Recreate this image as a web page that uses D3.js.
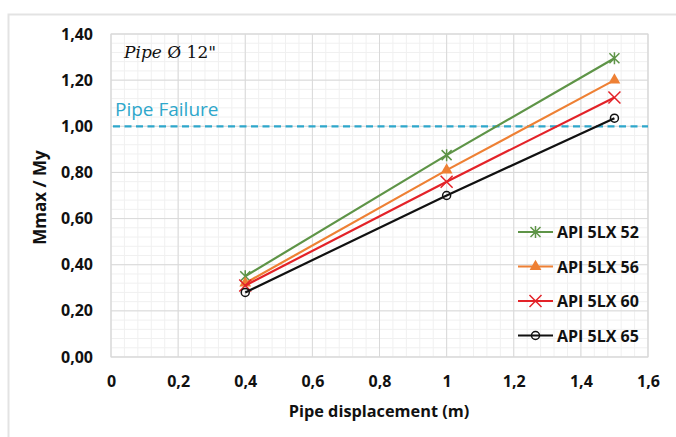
<!DOCTYPE html>
<html>
<head>
<meta charset="utf-8">
<script src="https://cdn.jsdelivr.net/npm/d3@7"></script>
<style>
  body { margin: 0; background: #fff; }
  svg { display: block; }
</style>
</head>
<body>
<div id="chart"></div>
<script>
// Data
let xValues = [0.4, 1, 1.5]
let seriesNames = ['API 5LX 52', 'API 5LX 56', 'API 5LX 60', 'API 5LX 65']
let seriesValues = [
  [0.35, 0.875, 1.295],
  [0.32, 0.81, 1.20],
  [0.31, 0.76, 1.125],
  [0.28, 0.70, 1.035],
]
let seriesColors = ['#5E9447', '#EE8034', '#E32228', '#111111']
let seriesMarkers = ['star', 'triangle', 'cross', 'circle']
let xTicks = [0, 0.2, 0.4, 0.6, 0.8, 1, 1.2, 1.4, 1.6]
let yTicks = [0, 0.2, 0.4, 0.6, 0.8, 1.0, 1.2, 1.4]
let failureLevel = 1.0

// Plot constants
let W = 676, H = 437
let margin = {t: 34, r: 28, b: 80, l: 111}
let plotW = W - margin.l - margin.r
let plotH = H - margin.t - margin.b
let font = '"Open Sans", Lato, sans-serif'

let svg = d3.select('#chart').append('svg')
  .attr('width', W)
  .attr('height', H)

// outer frame of the figure
svg.append('path')
  .attr('d', `M8.5,${H} L8.5,14.5 L${W},14.5`)
  .attr('fill', 'none')
  .attr('stroke', '#e3e3e3')
  .attr('stroke-width', 2)

let x = d3.scaleLinear().domain([0, 1.6]).range([0, plotW])
let y = d3.scaleLinear().domain([0, 1.4]).range([plotH, 0])

let g = svg.append('g').attr('transform', `translate(${margin.l},${margin.t})`)

// minor grid
let minorX = d3.range(0, 1.6001, 0.04)
let minorY = d3.range(0, 1.4001, 0.04)
g.append('g').selectAll('line').data(minorX).enter().append('line')
  .attr('x1', d => x(d)).attr('x2', d => x(d))
  .attr('y1', 0).attr('y2', plotH)
  .attr('stroke', '#f0f0f0').attr('stroke-width', 1)
g.append('g').selectAll('line').data(minorY).enter().append('line')
  .attr('y1', d => y(d)).attr('y2', d => y(d))
  .attr('x1', 0).attr('x2', plotW)
  .attr('stroke', '#f0f0f0').attr('stroke-width', 1)

// major grid
g.append('g').selectAll('line').data(xTicks).enter().append('line')
  .attr('x1', d => x(d)).attr('x2', d => x(d))
  .attr('y1', 0).attr('y2', plotH)
  .attr('stroke', '#d9d9d9').attr('stroke-width', 1)
g.append('g').selectAll('line').data(yTicks).enter().append('line')
  .attr('y1', d => y(d)).attr('y2', d => y(d))
  .attr('x1', 0).attr('x2', plotW)
  .attr('stroke', '#d9d9d9').attr('stroke-width', 1)

let fmt = d => d3.format('.1f')(d).replace('.', ',')
let fmtY = d => d3.format('.2f')(d).replace('.', ',')

// axes
let xAxis = d3.axisBottom(x).tickValues(xTicks).tickSize(0).tickPadding(19)
  .tickFormat(d => d === 0 || d === 1 ? String(d) : fmt(d))
let yAxis = d3.axisLeft(y).tickValues(yTicks).tickSize(0).tickPadding(18)
  .tickFormat(fmtY)

g.append('g').attr('transform', `translate(0,${plotH})`).call(xAxis)
  .call(a => a.select('.domain').remove())
  .selectAll('text')
  .style('font-family', font)
  .style('font-weight', 'bold').style('font-size', '16px').attr('fill', '#111')
g.append('g').call(yAxis)
  .call(a => a.select('.domain').remove())
  .selectAll('text')
  .style('font-family', font)
  .style('font-weight', 'bold').style('font-size', '16px').attr('fill', '#111')

// axis titles
svg.append('text')
  .attr('x', 379).attr('y', 417)
  .attr('text-anchor', 'middle')
  .style('font-family', font)
  .style('font-weight', 'bold').style('font-size', '16.3px')
  .attr('fill', '#111')
  .text('Pipe displacement (m)')
svg.append('text')
  .attr('transform', `translate(46,${margin.t + plotH / 2 + 2}) rotate(-90)`)
  .attr('text-anchor', 'middle')
  .style('font-family', font)
  .style('font-weight', 'bold').style('font-size', '17px')
  .attr('fill', '#111')
  .text('Mmax / My')

// plot area border
g.append('rect')
  .attr('width', plotW).attr('height', plotH)
  .attr('fill', 'none').attr('stroke', '#d9d9d9')

// failure line
g.append('line')
  .attr('x1', 2).attr('x2', plotW)
  .attr('y1', y(failureLevel)).attr('y2', y(failureLevel))
  .attr('stroke', '#2EA7CB').attr('stroke-width', 2.2)
  .attr('stroke-dasharray', '7,4.5')
g.append('text')
  .attr('x', 4).attr('y', y(failureLevel) - 10)
  .style('font-family', font)
  .style('font-size', '19px')
  .attr('fill', '#2EA7CB')
  .text('Pipe Failure')

// annotation
let ann = g.append('text')
  .attr('x', 13).attr('y', 24)
  .style('font-family', '"DejaVu Serif", "Liberation Serif", serif')
  .style('font-size', '17px').attr('fill', '#111')
ann.append('tspan').style('font-style', 'italic').text('Pipe')
ann.append('tspan').text(' \u00D8 12"')

// markers
function drawMarker(sel, type, color, cx, cy) {
  if (type === 'star') {
    sel.append('path').attr('d', `M${cx - 5},${cy - 5}L${cx + 5},${cy + 5}M${cx - 5},${cy + 5}L${cx + 5},${cy - 5}M${cx},${cy - 6}L${cx},${cy + 6}`)
      .attr('stroke', color).attr('stroke-width', 1.5).attr('fill', 'none')
  } else if (type === 'triangle') {
    sel.append('path').attr('d', d3.symbol(d3.symbolTriangle, 60)())
      .attr('transform', `translate(${cx},${cy})`)
      .attr('fill', color)
  } else if (type === 'cross') {
    sel.append('path').attr('d', `M${cx - 6},${cy - 6}L${cx + 6},${cy + 6}M${cx - 6},${cy + 6}L${cx + 6},${cy - 6}`)
      .attr('stroke', color).attr('stroke-width', 1.5).attr('fill', 'none')
  } else {
    sel.append('circle').attr('cx', cx).attr('cy', cy).attr('r', 4)
      .attr('fill', 'none').attr('stroke', color).attr('stroke-width', 1.5)
  }
}

let line = d3.line().x(d => x(d[0])).y(d => y(d[1]))

seriesValues.forEach(function(vals, i) {
  let pts = xValues.map((xv, j) => [xv, vals[j]])
  g.append('path').datum(pts)
    .attr('d', line)
    .attr('fill', 'none')
    .attr('stroke', seriesColors[i])
    .attr('stroke-width', 2.2)
  let mg = g.append('g')
  pts.forEach(p => drawMarker(mg, seriesMarkers[i], seriesColors[i], x(p[0]), y(p[1])))
})

// legend
let legend = g.append('g').attr('transform', `translate(${518 - margin.l},${232 - margin.t})`)
seriesNames.forEach(function(name, i) {
  let row = legend.append('g').attr('transform', `translate(0,${i * 34.5})`)
  row.append('line').attr('x1', 0).attr('x2', 35).attr('y1', 0).attr('y2', 0)
    .attr('stroke', seriesColors[i]).attr('stroke-width', 2.2)
  drawMarker(row, seriesMarkers[i], seriesColors[i], 17.5, 0)
  row.append('text').attr('x', 39).attr('y', 6)
    .style('font-family', font)
    .style('font-weight', 'bold').style('font-size', '16px')
    .attr('fill', '#111')
    .text(name)
})
</script>
</body>
</html>
